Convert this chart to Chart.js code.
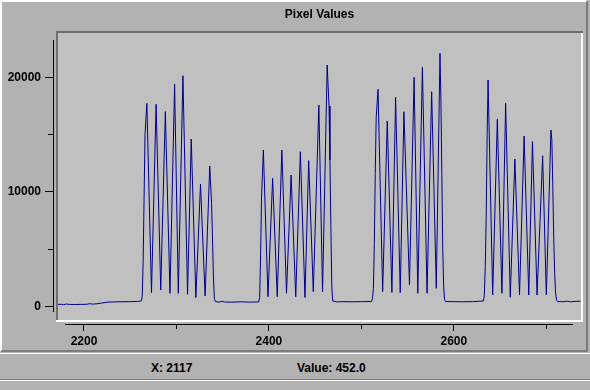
<!DOCTYPE html>
<html>
<head>
<meta charset="utf-8">
<script src="https://cdn.jsdelivr.net/npm/chart.js@4.4.1/dist/chart.umd.min.js"></script>
<style>
  html, body { margin: 0; padding: 0; }
  body { width: 590px; height: 390px; background: #b2b2b2; position: relative; overflow: hidden;
         font: bold 12px "Liberation Sans", Arial, sans-serif; color: #000; }
  #panel { position: absolute; left: 0; top: 0; width: 588px; height: 352px; box-sizing: border-box;
           border: 2px solid; border-color: #ffffff #7c7c7c #7c7c7c #ffffff; }
  #status { position: absolute; left: 0; top: 353px; width: 590px; height: 27px; box-sizing: border-box;
            border-top: 1px solid #ffffff; border-bottom: 1px solid #7c7c7c; }
  #status span { position: absolute; top: 7px; line-height: 14px; white-space: nowrap; }
  #lower { position: absolute; left: 0; top: 380px; width: 590px; height: 10px; border-top: 1px solid #ffffff; }
  #chart { position: absolute; left: 0; top: 0; }
</style>
</head>
<body>
<div id="panel"></div>
<canvas id="chart" width="590" height="352"></canvas>
<div id="status">
  <span id="pos-x" style="left:151px">X: 2117</span>
  <span id="pos-val" style="left:297px">Value: 452.0</span>
</div>
<div id="lower"></div>
<script>
document.addEventListener("DOMContentLoaded", () => {
  // pixel positions along the profile and the value read at each one
  const pixelX = [
    2172, 2176, 2178, 2181, 2184, 2190, 2196, 2203, 2206, 2209, 2214, 2220, 2226, 2232, 2240, 2250, 2258, 2262,
    2263, 2264, 2265, 2266, 2268, 2273, 2278, 2283, 2288, 2293, 2298, 2302, 2307, 2312, 2316, 2321, 2326, 2331,
    2336, 2338, 2339, 2340, 2341, 2342,
    2346, 2349, 2352, 2360, 2370, 2380, 2389,
    2390, 2391, 2392, 2394, 2399, 2404, 2409, 2414, 2419, 2424, 2429, 2434, 2439, 2443, 2448, 2454, 2458,
    2463, 2465, 2466, 2467, 2468, 2469,
    2474, 2480, 2490, 2500, 2511,
    2512, 2513, 2514, 2515, 2516, 2518, 2523, 2528, 2533, 2537, 2542, 2546, 2552, 2557, 2561, 2566, 2571,
    2576, 2581, 2585, 2586, 2587, 2588, 2589, 2590, 2591,
    2600, 2610, 2620, 2632,
    2633, 2634, 2635, 2636, 2637, 2642, 2647, 2652, 2656, 2661, 2666, 2671, 2676, 2681, 2685, 2690, 2696,
    2700, 2705, 2706, 2707, 2708, 2709, 2710, 2711, 2712,
    2718, 2722, 2726, 2731, 2737
  ];
  const pixelValue = [
    200, 210, 170, 240, 200, 190, 200, 210, 260, 230, 250, 330, 400, 420, 430, 440, 460, 500,
    900, 4000, 9500, 15000, 17730, 1220, 17650, 1460, 17010, 1170, 19410, 1170, 20140, 1080, 14620, 790, 10700, 930,
    12270, 9000, 6000, 2500, 700, 450,
    400, 470, 410, 400, 420, 400, 420,
    800, 4500, 9500, 13660, 870, 11190, 870, 13660, 1170, 11480, 870, 13510, 800, 12730, 1310, 17580, 1310,
    21070, 17500, 12790, 7000, 1700, 500,
    420, 440, 430, 440, 450,
    700, 1600, 5500, 11600, 16500, 18950, 1310, 16190, 1250, 18260, 1220, 17000, 1900, 20000, 1170, 20870, 1170,
    18740, 1600, 22090, 18000, 11600, 5000, 1700, 600, 450,
    440, 430, 440, 500,
    1000, 3500, 8000, 15000, 19760, 1020, 16340, 1170, 17730, 820, 12880, 1020, 14880, 1020, 14390, 1020, 13160,
    1020, 15410, 14500, 10500, 6000, 3000, 1200, 600, 450,
    430, 480, 430, 460, 480
  ];

  const xTicks = [2200, 2300, 2400, 2500, 2600, 2700];
  const yTicks = [0, 5000, 10000, 15000, 20000];

  const xRange = [2171.9, 2737.5];
  const yRange = [-1160, 23862];
  // extent of the drawn axis lines
  const xAxisSpan = [2180.5, 2729.5];
  const yAxisSpan = [-520, 23190];

  Chart.defaults.font.family = '"Liberation Sans", Arial, sans-serif';
  Chart.defaults.font.size = 12;
  Chart.defaults.font.weight = "bold";
  Chart.defaults.color = "#000";

  // sunken plot box, axis lines and tick marks
  const framePlugin = {
    id: "frame",
    beforeDraw(chart) {
      const { ctx, chartArea: a, scales } = chart;
      const xs = scales.x, ys = scales.y;
      ctx.save();
      ctx.fillStyle = "#c0c0c0";
      ctx.fillRect(a.left, a.top, a.width, a.height);
      ctx.fillStyle = "#6e6e6e";
      ctx.fillRect(a.left - 2, a.top - 2, a.width + 4, 2);
      ctx.fillRect(a.left - 2, a.top - 2, 2, a.height + 4);
      ctx.fillStyle = "#ffffff";
      ctx.fillRect(a.left - 2, a.bottom, a.width + 4, 2);
      ctx.fillRect(a.right, a.top, 2, a.height + 2);

      ctx.fillStyle = "#000";
      const ax = a.left - 5;
      const yTop = Math.floor(ys.getPixelForValue(yAxisSpan[1]));
      const yBot = Math.floor(ys.getPixelForValue(yAxisSpan[0]));
      ctx.fillRect(ax, yTop, 1, yBot - yTop);
      ys.ticks.forEach((t) => {
        const py = Math.floor(ys.getPixelForValue(t.value));
        const len = t.value % 10000 === 0 ? 8 : 5;
        ctx.fillRect(ax - len, py, len, 1);
      });

      const ay = a.bottom + 4;
      const xL = Math.floor(xs.getPixelForValue(xAxisSpan[0]));
      const xR = Math.floor(xs.getPixelForValue(xAxisSpan[1]));
      ctx.fillRect(xL, ay, xR - xL, 1);
      xs.ticks.forEach((t) => {
        const px = Math.floor(xs.getPixelForValue(t.value));
        const len = t.value % 200 === 0 ? 7 : 5;
        ctx.fillRect(px, ay, 1, len);
      });
      ctx.restore();
    },
  };

  new Chart(document.getElementById("chart"), {
    type: "line",
    data: {
      datasets: [
        {
          label: "Pixel Values",
          data: pixelX.map((x, i) => ({ x: x, y: pixelValue[i] })),
          borderColor: "#00008c",
          borderWidth: 1,
          pointRadius: 0,
          tension: 0,
          fill: false,
        },
      ],
    },
    options: {
      responsive: false,
      animation: false,
      devicePixelRatio: 1,
      layout: { padding: { left: 1, right: 9, top: 0, bottom: 0 } },
      plugins: {
        legend: { display: false },
        tooltip: { enabled: false },
        title: {
          display: true,
          fullSize: false,
          text: "Pixel Values",
          font: { size: 12, weight: "bold" },
          color: "#000",
          padding: { top: 7.8, bottom: 10.8 },
        },
      },
      scales: {
        x: {
          type: "linear",
          min: xRange[0],
          max: xRange[1],
          grid: { display: false, drawTicks: false },
          border: { display: false },
          afterBuildTicks: (scale) => { scale.ticks = xTicks.map((v) => ({ value: v })); },
          ticks: {
            autoSkip: false,
            maxRotation: 0,
            padding: 14,
            callback: (v) => (v % 200 === 0 ? String(v) : ""),
          },
          afterFit: (scale) => { scale.height = 32; },
        },
        y: {
          type: "linear",
          min: yRange[0],
          max: yRange[1],
          grid: { display: false, drawTicks: false },
          border: { display: false },
          afterBuildTicks: (scale) => { scale.ticks = yTicks.map((v) => ({ value: v })); },
          ticks: {
            autoSkip: false,
            padding: 17,
            callback: (v) => (v % 10000 === 0 ? String(v) : ""),
          },
          afterFit: (scale) => { scale.width = 57; },
        },
      },
    },
    plugins: [framePlugin],
  });
});
</script>
</body>
</html>
